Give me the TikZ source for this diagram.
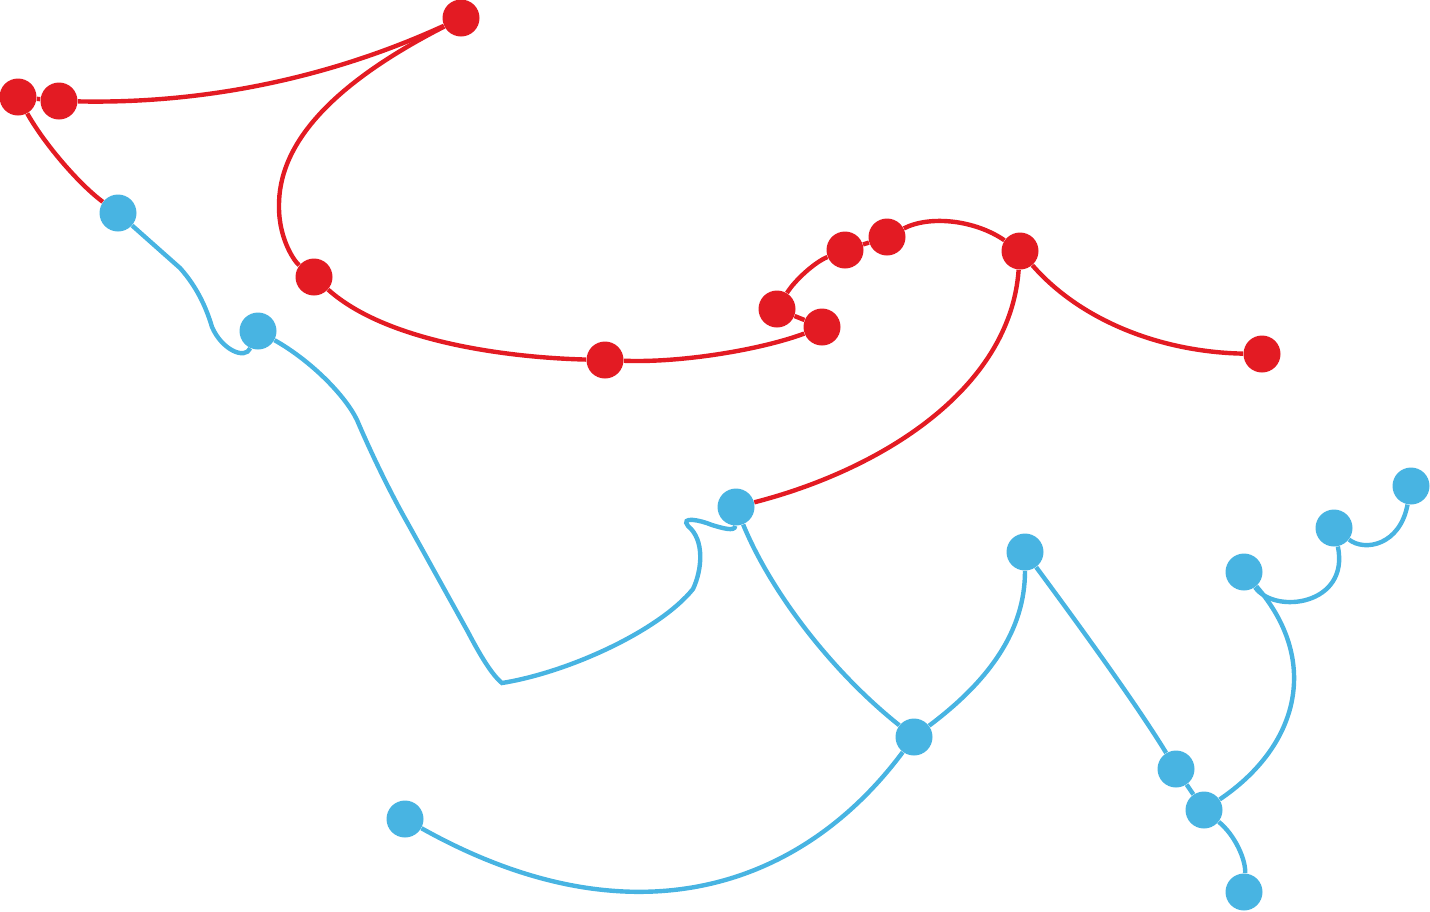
\documentclass[tikz,border=0pt]{standalone}
\definecolor{netred}{HTML}{E31B23}
\definecolor{netblue}{HTML}{48B4E2}
\begin{document}
\begin{tikzpicture}[x=0.5pt,y=-0.5pt,
  rdot/.style={circle,fill=netred,inner sep=0pt,minimum size=18.5pt},
  bdot/.style={circle,fill=netblue,inner sep=0pt,minimum size=18.5pt},
  rline/.style={draw=netred,line width=2.2pt},
  bline/.style={draw=netblue,line width=2.2pt}]
\useasboundingbox (0,0) rectangle (1430,911);
% red nodes
\node[rdot] (r1) at (18,97) {};
\node[rdot] (r2) at (59,101) {};
\node[rdot] (r3) at (461,18) {};
\node[rdot] (r4) at (314,277) {};
\node[rdot] (r5) at (605,360) {};
\node[rdot] (r6) at (822,327) {};
\node[rdot] (r7) at (777,309) {};
\node[rdot] (r8) at (845,250) {};
\node[rdot] (r9) at (887,237) {};
\node[rdot] (r10) at (1020,251) {};
\node[rdot] (r11) at (1262,354) {};
% blue nodes
\node[bdot] (b1) at (118,213) {};
\node[bdot] (b2) at (258,331) {};
\node[bdot] (b3) at (736,507) {};
\node[bdot] (b4) at (1025,552) {};
\node[bdot] (b5) at (914,737) {};
\node[bdot] (b6) at (405,819) {};
\node[bdot] (b7) at (1176,769) {};
\node[bdot] (b8) at (1204,810) {};
\node[bdot] (b9) at (1244,892) {};
\node[bdot] (b10) at (1244,572) {};
\node[bdot] (b11) at (1334,528) {};
\node[bdot] (b12) at (1411,486) {};
% red connectors
\path[rline] (r1) -- (r2);
\path[rline] (r2) .. controls (250,105) and (380,55) .. (r3);
\path[rline] (r3) .. controls (330,85) and (278,145) .. (279,207) .. controls (279,240) and (295,262) .. (r4);
\path[rline] (r1) .. controls (45,145) and (80,185) .. (b1);
\path[rline] (r4) .. controls (390,345) and (520,358) .. (r5);
\path[rline] (r5) .. controls (680,363) and (760,350) .. (r6);
\path[rline] (r6) -- (r7);
\path[rline] (r7) .. controls (795,280) and (815,262) .. (r8);
\path[rline] (r8) -- (r9);
\path[rline] (r9) .. controls (930,215) and (975,220) .. (r10);
\path[rline] (r10) .. controls (1080,320) and (1160,352) .. (r11);
\path[rline] (r10) .. controls (1010,390) and (880,470) .. (b3);
% blue connectors
\path[bline] (b1) -- (180,268) .. controls (198,288) and (207,310) .. (212,327) .. controls (222,350) and (245,360) .. (b2);
\path[bline] (b2) .. controls (310,360) and (345,395) .. (357,420) .. controls (372,455) and (390,492) .. (407,522) -- (468,632) .. controls (480,655) and (492,675) .. (502,683) .. controls (570,672) and (660,630) .. (693,589) .. controls (702,570) and (705,540) .. (688,526) .. controls (680,516) and (700,520) .. (712,525) .. controls (722,528) and (735,532) .. (b3);
\path[bline] (b3) .. controls (770,590) and (830,670) .. (b5);
\path[bline] (b4) .. controls (1025,630) and (990,680) .. (b5);
\path[bline] (b5) .. controls (800,890) and (630,945) .. (b6);
\path[bline] (b4) .. controls (1090,640) and (1140,710) .. (b7);
\path[bline] (b7) -- (b8);
\path[bline] (b8) .. controls (1235,835) and (1246,860) .. (b9);
\path[bline] (b8) .. controls (1300,745) and (1320,660) .. (b10);
\path[bline] (b10) .. controls (1275,615) and (1350,605) .. (b11);
\path[bline] (b11) .. controls (1365,552) and (1400,545) .. (b12);
\end{tikzpicture}
\end{document}
